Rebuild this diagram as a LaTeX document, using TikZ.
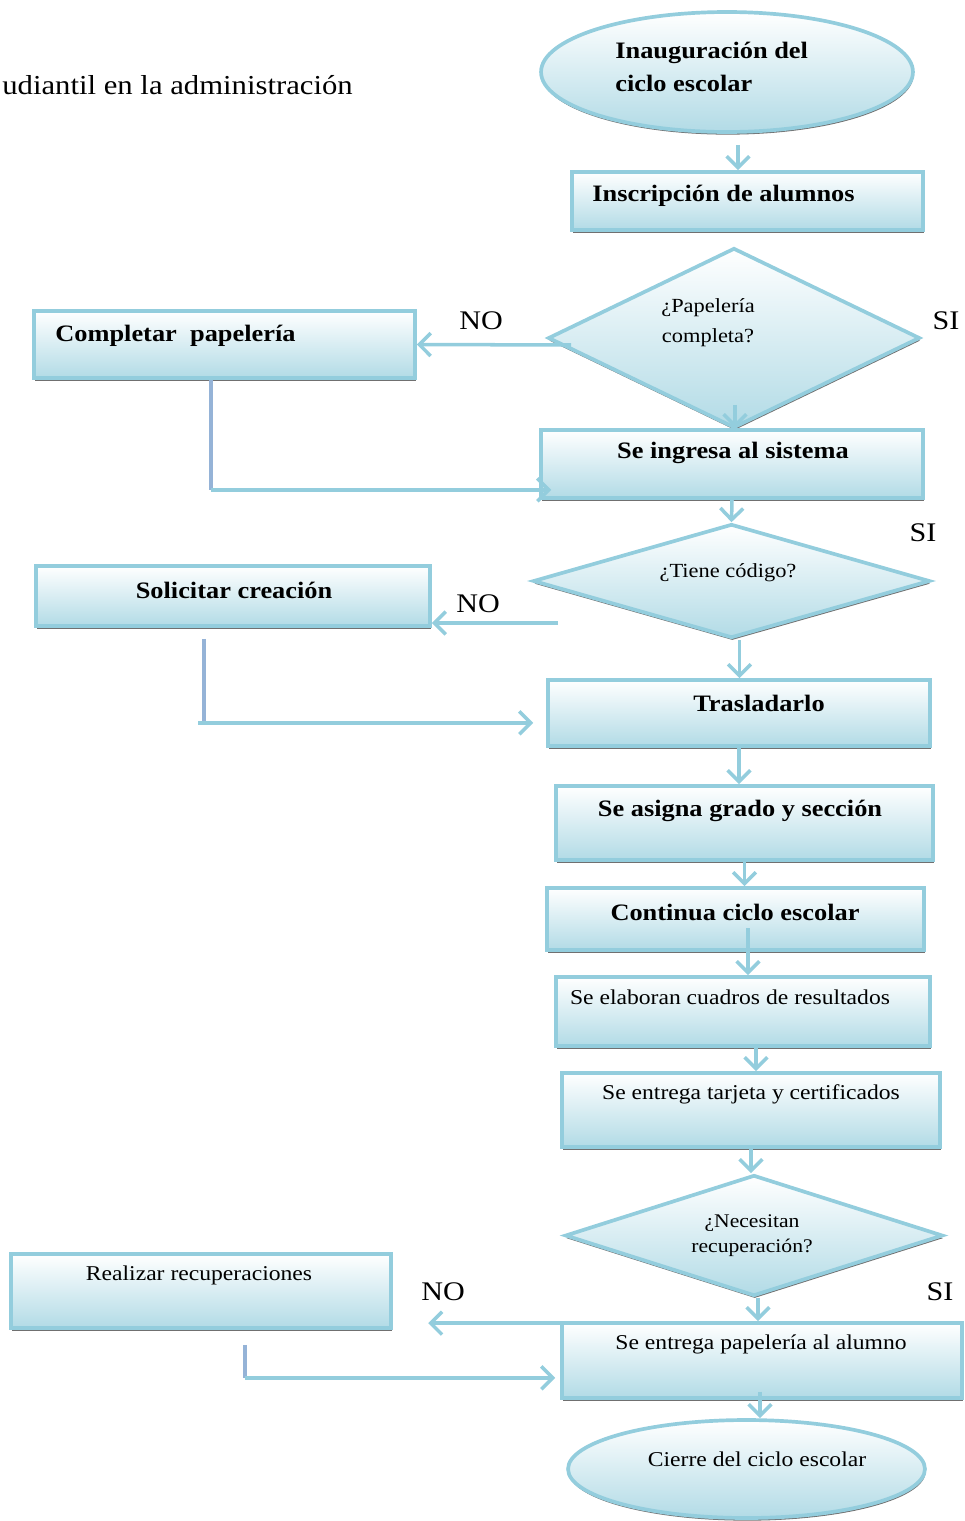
\documentclass[tikz,border=0pt]{standalone}
\usepackage{fontspec}
\setmainfont{Liberation Serif}[FakeStretch=1.12]
\usetikzlibrary{shapes.geometric,arrows.meta,shadows}
\definecolor{aqua}{HTML}{93CDDD}
\definecolor{aqualt}{HTML}{B2DBE6}
\definecolor{steel}{HTML}{95B3D7}
\begin{document}
\begin{tikzpicture}[x=0.02cm,y=-0.02cm,
  shapebase/.style={draw=aqua, line width=2.1pt, top color=white, bottom color=aqualt,
    inner sep=0pt, drop shadow={shadow xshift=0.4pt, shadow yshift=-1.5pt, fill=black!75, opacity=0.75}},
  stepbox/.style={shapebase, rectangle},
  terminal/.style={shapebase, ellipse},
  decision/.style={shapebase, diamond},
  arr/.style={draw=aqua, line width=2pt, -{Straight Barb[length=6.5pt,width=13pt]}},
  vline/.style={draw=steel, line width=2pt},
  boldtxt/.style={font=\fontsize{13.4}{18.7}\selectfont\bfseries, inner sep=0pt},
  plaintxt/.style={font=\fontsize{12}{16}\selectfont, inner sep=0pt},
  asktxt/.style={font=\fontsize{11.4}{17}\selectfont, align=center, inner sep=0pt},
  yesno/.style={font=\fontsize{15.3}{18}\selectfont, inner sep=0pt},
]
\useasboundingbox (0,0) rectangle (964,1521);

% heading fragment
\node[font=\fontsize{15.6}{18}\selectfont, anchor=west, inner sep=0pt] (hd) at (2,85) {udiantil en la administración};

% shapes
\node[terminal, minimum width=7.44cm, minimum height=2.4cm] (e1) at (727,72) {};
\node[stepbox, minimum width=7.02cm, minimum height=1.16cm] (r1) at (747.5,201) {};
\node[decision, minimum width=7.44cm, minimum height=3.6cm] (d1) at (734,338) {};
\node[stepbox, minimum width=7.62cm, minimum height=1.34cm] (c1) at (224.5,344.5) {};
\node[stepbox, minimum width=7.64cm, minimum height=1.36cm] (s1) at (732,464) {};
\node[decision, minimum width=7.94cm, minimum height=2.28cm] (d2) at (731.5,581) {};
\node[stepbox, minimum width=7.88cm, minimum height=1.2cm] (so) at (233,596) {};
\node[stepbox, minimum width=7.64cm, minimum height=1.32cm] (tr) at (739,713) {};
\node[stepbox, minimum width=7.54cm, minimum height=1.48cm] (sa) at (744.5,823) {};
\node[stepbox, minimum width=7.54cm, minimum height=1.24cm] (co) at (735.5,919) {};
\node[stepbox, minimum width=7.48cm, minimum height=1.38cm] (el) at (743,1011.5) {};
\node[stepbox, minimum width=7.56cm, minimum height=1.48cm] (et) at (751,1110) {};
\node[decision, minimum width=7.56cm, minimum height=2.42cm] (d3) at (754,1235.5) {};
\node[stepbox, minimum width=7.6cm, minimum height=1.48cm] (re) at (201,1291) {};
\node[stepbox, minimum width=8.0cm, minimum height=1.5cm] (sp) at (762,1360.5) {};
\node[terminal, minimum width=7.14cm, minimum height=1.96cm] (e2) at (746.5,1469) {};

% texts
\node[boldtxt, anchor=west, align=left] (te1) at (615,67) {Inauguración del\\ciclo escolar};
\node[boldtxt] (tr1) at (723.5,196) {Inscripción de alumnos};
\node[asktxt] (td1) at (708,323) {¿Papelería\\completa?};
\node[boldtxt, anchor=west] (tc1) at (55,336) {Completar\ \ papelería};
\node[boldtxt] (ts1) at (733,453) {Se ingresa al sistema};
\node[asktxt] (td2) at (728,573) {¿Tiene código?};
\node[boldtxt] (tso) at (234,590) {Solicitar creación};
\node[boldtxt] (ttr) at (759,703) {Trasladarlo};
\node[boldtxt] (tsa) at (740,811) {Se asigna grado y sección};
\node[boldtxt] (tco) at (735,912) {Continua ciclo escolar};
\node[plaintxt] (tel) at (730,997) {Se elaboran cuadros de resultados};
\node[plaintxt] (tet) at (751,1094) {Se entrega tarjeta y certificados};
\node[asktxt, font=\fontsize{11}{14.2}\selectfont] (td3) at (752,1236) {¿Necesitan\\recuperación?};
\node[plaintxt] (tre) at (199,1275) {Realizar recuperaciones};
\node[plaintxt] (tsp) at (761,1344) {Se entrega papelería al alumno};
\node[plaintxt] (te2) at (757,1459) {Cierre del ciclo escolar};

% branch labels
\node[yesno] (no1) at (481,321) {NO};
\node[yesno] (si1) at (946,321) {SI};
\node[yesno] (si2) at (923,533) {SI};
\node[yesno] (no2) at (478,604) {NO};
\node[yesno] (no3) at (443,1292) {NO};
\node[yesno] (si3) at (940,1292) {SI};

% helper points on the connectors
\coordinate (a1) at ([shift={(11,11)}]e1.south);
\coordinate (a2) at ([shift={(1,-25)}]d1.south);
\coordinate (k1t) at ([shift={(-13.5,0)}]c1.south);
\coordinate (k1) at ([shift={(-13.5,110)}]c1.south);
\coordinate (s1w) at ([shift={(12,0)}]s1.west);
\coordinate (a3) at ([shift={(27,42)}]d2.west);
\coordinate (a4) at ([shift={(8,0)}]d2.south);
\coordinate (k2t) at ([shift={(-29,11)}]so.south);
\coordinate (k2) at ([shift={(-29,95)}]so.south);
\coordinate (k2s) at ([shift={(-6,0)}]k2);
\coordinate (trw) at ([shift={(-13,0)}]tr.west);
\coordinate (a5) at ([shift={(12.5,9)}]co.center);
\coordinate (a6) at ([shift={(13,0)}]el.south);
\coordinate (a7) at ([shift={(4,0)}]d3.south);
\coordinate (a8) at ([shift={(-132,2)}]sp.north west);
\coordinate (a8s) at ([shift={(0,2)}]sp.north west);
\coordinate (k3t) at ([shift={(44,15)}]re.south);
\coordinate (k3) at ([shift={(44,48)}]re.south);
\coordinate (spw) at ([shift={(-5,0)}]sp.west);
\coordinate (a9) at ([shift={(-2,-8)}]sp.south);

% connectors
\draw[arr] (a1) -- (a1 |- r1.north);
\draw[arr] ([shift={(25,7)}]d1.west) -- (c1.east);
\draw[arr] (a2) -- (a2 |- s1.north);
\draw[vline] (k1t) -- (k1);
\draw[arr] (k1) -- (k1 -| s1w);
\draw[arr] (s1.south) -- (d2.north);
\draw[arr] (a3) -- (a3 -| so.east);
\draw[arr] (a4) -- (a4 |- tr.north);
\draw[vline] (k2t) -- (k2);
\draw[arr] (k2s) -- (k2 -| trw);
\draw[arr] (tr.south) -- (tr.south |- sa.north);
\draw[arr] (sa.south) -- (sa.south |- co.north);
\draw[arr] (a5) -- (a5 |- el.north);
\draw[arr] (a6) -- (a6 |- et.north);
\draw[arr] (et.south) -- (et.south |- d3.north);
\draw[arr] (a7) -- (a7 |- sp.north);
\draw[arr] (a8s) -- (a8);
\draw[vline] (k3t) -- (k3);
\draw[arr] (k3) -- (k3 -| spw);
\draw[arr] (a9) -- (a9 |- e2.north);
\end{tikzpicture}
\end{document}
